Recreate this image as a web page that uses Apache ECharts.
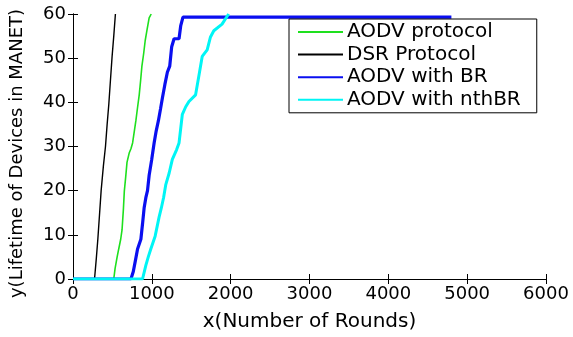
<!DOCTYPE html>
<html>
<head>
<meta charset="utf-8">
<script src="https://cdn.jsdelivr.net/npm/echarts@6/dist/echarts.min.js"></script>
<style>
  html, body { margin: 0; padding: 0; background: #ffffff; }
  #chart { width: 573px; height: 337px; }
</style>
</head>
<body>
<div id="chart"></div>
<script>
// Dead-node count (devices) per simulation round for each routing protocol
const seriesNames = ['AODV protocol', 'DSR Protocol', 'AODV with BR', 'AODV with nthBR'];

const aodvRounds = [0, 517, 534, 560, 580, 605, 622, 640, 651, 668, 685, 714, 735, 756, 778, 798, 820, 840, 858, 874, 896, 916, 940, 966, 992];
const aodvDevices = [0, 0, 2.4, 5, 6.8, 9, 11.1, 16, 19.9, 23, 26.4, 28.6, 29.5, 30.8, 33.5, 35.9, 39, 41.7, 45, 48.2, 51, 54, 56.5, 59.1, 60];

const dsrRounds = [0, 273, 295, 315, 336, 357, 385, 412, 433, 454, 475, 496, 517, 538];
const dsrDevices = [0, 0, 4.5, 9, 14.5, 20, 25.5, 30, 35, 39.5, 45, 50.4, 55, 60];

const brRounds = [0, 735, 765, 795, 819, 861, 882, 903, 924, 945, 966, 998, 1029, 1055, 1084, 1110, 1134, 1165, 1197, 1227, 1252, 1282, 1345, 1366, 1395, 4800];
const brDevices = [0, 0, 1.7, 4.5, 6.8, 9, 12.5, 16.2, 18.4, 20, 23.5, 27, 30.8, 33.5, 35.9, 38.5, 41, 44, 46.8, 48.2, 52.6, 54.4, 54.4, 57.3, 59.3, 59.3];

const nthBrRounds = [0, 882, 924, 955, 987, 1042, 1092, 1122, 1150, 1176, 1220, 1260, 1315, 1345, 1387, 1430, 1471, 1555, 1597, 1639, 1702, 1744, 1786, 1891, 1941, 1975];
const nthBrDevices = [0, 0, 3.1, 5, 6.8, 9.7, 14, 16.2, 18.5, 21.3, 24, 27.1, 29.3, 30.8, 37.3, 39, 40.2, 41.7, 46, 50.4, 51.9, 54.8, 56.2, 57.7, 59.1, 60];

const xTicks = { min: 0, max: 6000, step: 1000 };
const yTicks = { min: 0, max: 60, step: 10 };

const xLabel = 'x(Number of Rounds)';
const yLabel = 'y(Lifetime of Devices in MANET)';

function pairs(xs, ys) {
  return xs.map((x, i) => [x, ys[i]]);
}

const FONT = 'DejaVu Sans';
const plainNumber = v => String(v);

const chart = echarts.init(document.getElementById('chart'), null, { renderer: 'canvas' });

const frameAxisLine = { show: true, lineStyle: { color: '#000000', width: 1 } };
const frameTick = { show: true, inside: true, length: 5, lineStyle: { color: '#000000', width: 1 } };

chart.setOption({
  animation: false,
  backgroundColor: '#ffffff',
  grid: { left: 70, right: 27, top: 14, bottom: 48, containLabel: false },
  legend: {
    orient: 'vertical',
    left: 289,
    top: 19,
    padding: [3, 16, 3, 8],
    itemGap: 2.6,
    itemWidth: 45,
    itemHeight: 20,
    backgroundColor: '#ffffff',
    borderColor: '#000000',
    borderWidth: 1,
    borderRadius: 0,
    data: seriesNames,
    itemStyle: { opacity: 0 },
    textStyle: { fontFamily: FONT, fontSize: 20, color: '#000000', lineHeight: 20, padding: [0, 0, 0, -1] }
  },
  xAxis: [
    {
      type: 'value', position: 'bottom',
      min: xTicks.min, max: xTicks.max, interval: xTicks.step,
      name: xLabel, nameLocation: 'middle', nameGap: 33,
      nameTextStyle: { fontFamily: FONT, fontSize: 20, color: '#000000' },
      axisLine: frameAxisLine, axisTick: frameTick,
      axisLabel: { fontFamily: FONT, fontSize: 18, color: '#000000', margin: 6, formatter: plainNumber },
      splitLine: { show: false }
    },
    {
      type: 'value', position: 'top',
      min: xTicks.min, max: xTicks.max, interval: xTicks.step,
      axisLine: frameAxisLine, axisTick: frameTick,
      axisLabel: { show: false }, splitLine: { show: false }
    }
  ],
  yAxis: [
    {
      type: 'value', position: 'left',
      min: yTicks.min, max: yTicks.max, interval: yTicks.step,
      name: yLabel, nameLocation: 'middle', nameGap: 47, nameRotate: 90,
      nameTextStyle: { fontFamily: FONT, fontSize: 18, color: '#000000', padding: [0, 14, 0, 0] },
      axisLine: frameAxisLine, axisTick: frameTick,
      axisLabel: { fontFamily: FONT, fontSize: 18, color: '#000000', margin: 7, formatter: plainNumber },
      splitLine: { show: false }
    },
    {
      type: 'value', position: 'right',
      min: yTicks.min, max: yTicks.max, interval: yTicks.step,
      axisLine: frameAxisLine, axisTick: frameTick,
      axisLabel: { show: false }, splitLine: { show: false }
    }
  ],
  series: [
    {
      name: seriesNames[0], type: 'line', data: pairs(aodvRounds, aodvDevices),
      symbol: 'none', clip: true, color: '#1ee01e',
      lineStyle: { color: '#1ee01e', width: 1.6 }, z: 2
    },
    {
      name: seriesNames[1], type: 'line', data: pairs(dsrRounds, dsrDevices),
      symbol: 'none', clip: true, color: '#000000',
      lineStyle: { color: '#000000', width: 1.4 }, z: 2
    },
    {
      name: seriesNames[2], type: 'line', data: pairs(brRounds, brDevices),
      symbol: 'none', clip: true, color: '#0a0ff0',
      lineStyle: { color: '#0a0ff0', width: 3.2 }, z: 3
    },
    {
      name: seriesNames[3], type: 'line', data: pairs(nthBrRounds, nthBrDevices),
      symbol: 'none', clip: true, color: '#00f5f5',
      lineStyle: { color: '#00f5f5', width: 3 }, z: 4
    }
  ]
});
</script>
</body>
</html>
